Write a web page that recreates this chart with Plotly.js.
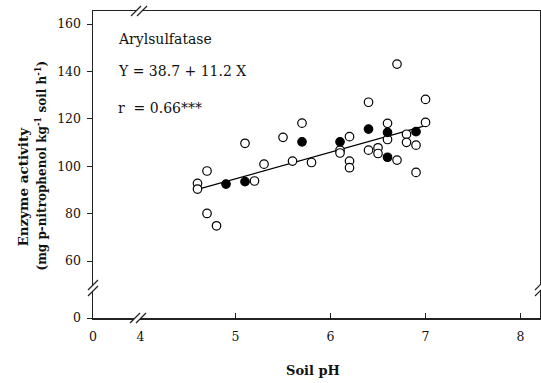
<!DOCTYPE html>
<html>
<head>
<meta charset="utf-8">
<script src="https://cdn.plot.ly/plotly-3.0.1.min.js"></script>
<style>html,body{margin:0;padding:0;background:#fff;}#chart{width:541px;height:383px;}</style>
</head>
<body>
<div id="chart"></div>
<script>
// ---- data ----
const openPH  = [4.6,4.6,4.7,4.7,4.8,5.1,5.2,5.3,5.5,5.6,5.7,5.8,6.1,6.1,6.2,6.2,6.2,6.4,6.4,6.5,6.5,6.6,6.6,6.7,6.7,6.8,6.8,6.9,6.9,7.0,7.0];
const openAct = [92.8,90.4,98.0,80.1,74.9,109.7,93.8,100.9,112.2,102.2,118.2,101.6,106.8,105.6,112.5,102.2,99.4,127.0,106.8,107.8,105.4,118.1,111.3,143.1,102.6,113.5,110.1,108.9,97.4,128.2,118.5];
const filledPH  = [4.9,5.1,5.7,6.1,6.4,6.6,6.6,6.9];
const filledAct = [92.5,93.5,110.3,110.3,115.7,114.3,103.8,114.6];
const regCoef = [38.7, 11.2];      // intercept, slope
const regRange = [4.6, 7.0];
const xTickVals = [3.5,4,5,6,7,8];
const xTickText = ["0","4","5","6","7","8"];
const yTickVals = [36,60,80,100,120,140,160];
const yTickText = ["0","60","80","100","120","140","160"];

const regY = regRange.map(x => regCoef[0] + regCoef[1]*x);

const W = 541, H = 383, ML = 93, MR = 1, MT = 11, MB = 65;
const PW = W-ML-MR, PH = H-MT-MB;
const px = x => (x-ML)/PW;
const py = y => (H-MB-y)/PH;

const serif = "DejaVu Serif";
const axColor = "#222";

function brk(cx, cy, horiz){
  let a, b;
  if (horiz){
    a = [[cx-3-5, cy+5],[cx-3+5, cy-5]];
    b = [[cx+3-5, cy+5],[cx+3+5, cy-5]];
  } else {
    a = [[cx-5, cy-3+5],[cx+5, cy-3-5]];
    b = [[cx-5, cy+3+5],[cx+5, cy+3-5]];
  }
  const P = p => px(p[0]).toFixed(5)+","+py(p[1]).toFixed(5);
  return [
    {type:"path", xref:"paper", yref:"paper", layer:"above",
     path:"M"+P(a[0])+" L"+P(a[1])+" L"+P(b[1])+" L"+P(b[0])+" Z",
     fillcolor:"#fff", line:{width:0}},
    {type:"line", xref:"paper", yref:"paper", layer:"above",
     x0:px(a[0][0]), y0:py(a[0][1]), x1:px(a[1][0]), y1:py(a[1][1]), line:{color:axColor,width:1.2}},
    {type:"line", xref:"paper", yref:"paper", layer:"above",
     x0:px(b[0][0]), y0:py(b[0][1]), x1:px(b[1][0]), y1:py(b[1][1]), line:{color:axColor,width:1.2}}
  ];
}

const traces = [
  {x: regRange, y: regY, mode:"lines", line:{color:"#000", width:1.3}, hoverinfo:"skip"},
  {x: openPH, y: openAct, mode:"markers", marker:{symbol:"circle", size:8.5, color:"#fff", line:{color:"#000", width:1.2}}},
  {x: filledPH, y: filledAct, mode:"markers", marker:{symbol:"circle", size:8.5, color:"#000", line:{color:"#000", width:1.2}}}
];

const axisCommon = {
  showgrid:false, zeroline:false, showline:true, linecolor:axColor, linewidth:1.5,
  mirror:true, ticklen:5, tickwidth:1, tickcolor:axColor,
  tickfont:{family:serif, size:12.5, color:"#111"}, tickmode:"array"
};

const layout = {
  width:W, height:H, margin:{l:ML, r:MR, t:MT, b:MB},
  paper_bgcolor:"#fff", plot_bgcolor:"#fff", showlegend:false,
  xaxis: Object.assign({}, axisCommon, {range:[3.5, 8.205], tickvals:xTickVals, ticktext:xTickText, ticks:"inside", ticklabelstandoff:6}),
  yaxis: Object.assign({}, axisCommon, {range:[36, 165.5], tickvals:yTickVals, ticktext:yTickText, ticks:"outside", ticklabelstandoff:3}),
  shapes: [].concat(brk(138, H-MB, true), brk(139, MT, true), brk(ML, 288, false), brk(W-MR, 288, false)),
  annotations: [
    {xref:"paper", yref:"paper", x:px(116), y:py(39), xanchor:"left", yanchor:"middle", showarrow:false,
     text:"Arylsulfatase", font:{family:serif, size:14, color:"#111"}},
    {xref:"paper", yref:"paper", x:px(116), y:py(70.5), xanchor:"left", yanchor:"middle", showarrow:false,
     text:"Y = 38.7 + 11.2 X", font:{family:serif, size:14, color:"#111"}},
    {xref:"paper", yref:"paper", x:px(116), y:py(107.5), xanchor:"left", yanchor:"middle", showarrow:false,
     text:"r  = 0.66***", font:{family:serif, size:14, color:"#111"}},
    {xref:"paper", yref:"paper", x:px(22), y:py(186.5), xanchor:"center", yanchor:"middle", showarrow:false, textangle:-90,
     text:"Enzyme activity",
     font:{family:serif, size:13.5, color:"#111", weight:"bold"}},
    {xref:"paper", yref:"paper", x:px(40), y:py(165.5), xanchor:"center", yanchor:"middle", showarrow:false, textangle:-90,
     text:"(mg p-nitrophenol kg<sup>-1</sup> soil h<sup>-1</sup>)",
     font:{family:serif, size:12, color:"#111", weight:"bold"}},
    {xref:"paper", yref:"paper", x:px(313), y:py(370), xanchor:"center", yanchor:"middle", showarrow:false,
     text:"Soil pH", font:{family:serif, size:13, color:"#111", weight:"bold"}}
  ]
};

Plotly.newPlot("chart", traces, layout, {staticPlot:true, displayModeBar:false});
</script>
</body>
</html>
